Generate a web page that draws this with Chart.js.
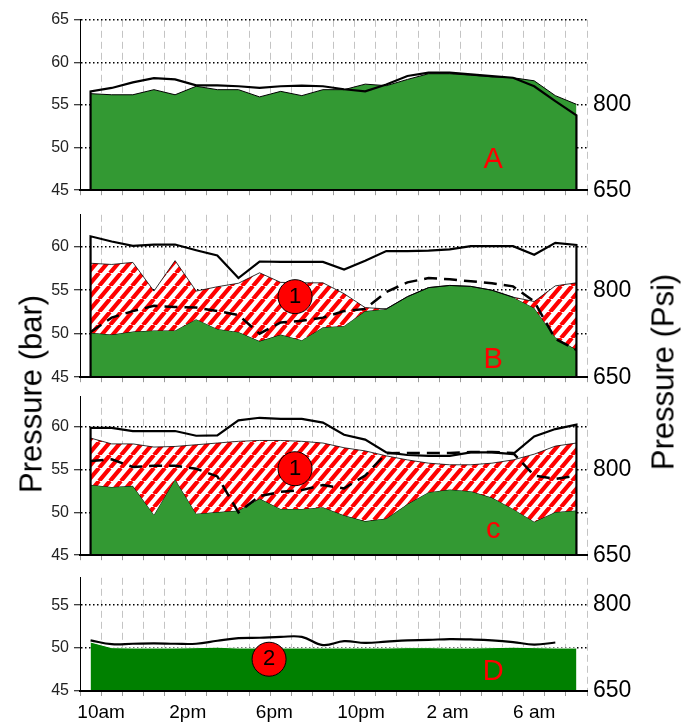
<!DOCTYPE html>
<html>
<head>
<meta charset="utf-8">
<script src="https://cdn.jsdelivr.net/npm/chart.js@4.4.1/dist/chart.umd.min.js"></script>
<style>
  html, body { margin: 0; padding: 0; background: #fff; }
  #wrap { position: relative; width: 689px; height: 723px; overflow: hidden; font-family: "Liberation Sans", Arial, sans-serif; }
  #wrap canvas { position: absolute; left: 0; }
  .ytitle { position: absolute; font-size: 31px; color: #000; white-space: nowrap; line-height: 1; }
</style>
</head>
<body>
<div id="wrap">
  <canvas id="panelA" width="689" height="210" style="top:0px"></canvas>
  <canvas id="panelB" width="689" height="202" style="top:195px"></canvas>
  <canvas id="panelC" width="689" height="198" style="top:377px"></canvas>
  <canvas id="panelD" width="689" height="165" style="top:558px"></canvas>
  <div class="ytitle" style="left:31px; top:394px; transform:translate(-50%,-50%) rotate(-90deg)">Pressure (bar)</div>
  <div class="ytitle" style="left:663px; top:372px; transform:translate(-50%,-50%) rotate(-90deg)">Pressure (Psi)</div>
</div>
<script>
// sample times, in hours after 10am
const sampleHours = [-0.5, 0.5, 1.5, 2.5, 3.5, 4.5, 5.5, 6.5, 7.5, 8.5, 9.5, 10.5,
  11.5, 12.5, 13.5, 14.5, 15.5, 16.5, 17.5, 18.5, 19.5, 20.5, 21.5, 22.5];
const gridHours = [-1, 0, 1, 2, 3, 4, 5, 6, 7, 8, 9, 10, 11, 12, 13, 14, 15, 16, 17, 18, 19, 20, 21, 22, 23];
const tickHours = [0, 4.1, 8.2, 12.3, 16.4, 20.5];
const tickLabels = ['10am', '2pm', '6pm', '10pm', '2 am', '6 am'];
const psiTicks = [650, 800];

// panel A
const aGreen = [56.33, 56.2, 56.2, 56.8, 56.2, 57.2, 56.8, 56.8, 55.95, 56.6, 56.1, 56.8,
  56.8, 57.45, 57.27, 58.0, 58.67, 58.67, 58.5, 58.3, 58.2, 57.84, 56.1, 55.08];
const aTop = [56.6, 57.0, 57.65, 58.15, 58.0, 57.3, 57.3, 57.2, 57.0, 57.2, 57.27, 57.2,
  56.85, 56.6, 57.4, 58.4, 58.8, 58.8, 58.6, 58.4, 58.2, 57.2, 55.45, 53.8];

// panel B
const bGreen = [50.1, 49.9, 50.25, 50.37, 50.37, 51.67, 50.55, 50.2, 49.15, 49.9, 49.26, 50.74,
  50.9, 52.6, 52.85, 54.26, 55.3, 55.55, 55.44, 55.0, 54.2, 52.96, 49.6, 48.15];
const bHatch = [58.1, 57.96, 58.2, 54.9, 58.4, 54.9, 55.4, 55.8, 57.0, 55.9, 55.85, 55.85,
  54.6, 53.0, 52.85, 54.26, 55.3, 55.55, 55.44, 55.0, 54.2, 53.7, 55.5, 55.85];
const bTop = [61.2, 60.6, 60.1, 60.25, 60.25, 59.6, 59.0, 56.4, 58.3, 58.25, 58.25, 58.25,
  57.37, 58.4, 59.5, 59.5, 59.55, 59.7, 60.07, 60.07, 60.07, 59.07, 60.44, 60.2];
const bDashed = [50.2, 51.85, 52.6, 53.2, 53.07, 53.0, 52.6, 52.15, 50.0, 51.3, 51.48, 51.85,
  52.6, 52.85, 54.8, 55.9, 56.4, 56.25, 56.03, 55.8, 55.44, 53.7, 49.4, 48.15];

// panel C
const cGreen = [53.23, 52.97, 53.1, 49.73, 53.87, 49.85, 50.04, 50.22, 51.61, 50.41, 50.41, 50.6,
  49.66, 48.98, 49.28, 50.97, 52.36, 52.67, 52.47, 51.73, 50.41, 48.91, 50.04, 50.22];
const cHatch = [58.68, 58.0, 58.0, 57.63, 57.7, 57.9, 58.1, 58.3, 58.4, 58.4, 58.3, 58.1,
  57.55, 57.18, 56.6, 56.13, 55.75, 55.56, 55.56, 55.75, 56.13, 56.8, 57.74, 58.1];
const cTop = [59.88, 59.88, 59.5, 59.5, 59.5, 58.95, 59.0, 60.75, 61.05, 60.93, 60.93, 60.48,
  59.06, 58.5, 57.0, 56.7, 56.6, 56.6, 57.0, 57.0, 56.8, 58.87, 59.73, 60.25];
const cDashed = [56.0, 56.2, 55.3, 55.45, 55.45, 55.1, 54.2, 50.0, 51.9, 52.4, 52.6, 53.2,
  52.8, 54.3, 56.9, 56.95, 56.95, 56.95, 57.05, 57.05, 56.95, 54.3, 53.9, 54.3];

// panel D
const dGreen = [50.7, 50.05, 50.0, 50.0, 50.0, 50.05, 50.1, 50.0, 50.0, 50.0, 50.0, 50.0,
  50.0, 50.0, 50.0, 50.05, 50.05, 50.0, 50.0, 50.05, 50.1, 50.05, 50.0, 50.0];
const dTop = [50.9, 50.45, 50.5, 50.55, 50.5, 50.5, 50.85, 51.15, 51.2, 51.3, 51.3, 50.35,
  50.8, 50.6, 50.75, 50.9, 50.95, 51.05, 51.0, 50.9, 50.7, 50.4, 50.65];

const baseBar = 45;
const psiPerBar = 15;
const fontFamily = '"Liberation Sans", Arial, sans-serif';

function pts(values) {
  return values.map((v, i) => ({ x: sampleHours[i], y: v }));
}
function withBase(values) {
  const p = pts(values);
  return [{ x: p[0].x, y: baseBar }, ...p, { x: p[p.length - 1].x, y: baseBar }];
}

function stripePattern() {
  const c = document.createElement('canvas');
  const w = 11, h = 13;
  c.width = w; c.height = h;
  const g = c.getContext('2d');
  g.fillStyle = '#fff';
  g.fillRect(0, 0, w, h);
  g.strokeStyle = '#ff0000';
  g.lineWidth = 4.2;
  g.beginPath();
  g.moveTo(0, h); g.lineTo(w, 0);
  g.moveTo(-w, h); g.lineTo(0, 0);
  g.moveTo(w, h); g.lineTo(2 * w, 0);
  g.stroke();
  return g.createPattern(c, 'repeat');
}
const hatch = stripePattern();

const panelLabels = {
  id: 'panelLabels',
  afterDatasetsDraw(chart, args, opts) {
    const { ctx, scales: { x, y } } = chart;
    (opts.items || []).forEach(it => {
      ctx.save();
      ctx.font = it.font;
      ctx.fillStyle = it.color;
      ctx.textAlign = 'center';
      ctx.textBaseline = 'middle';
      ctx.fillText(it.text, x.getPixelForValue(it.x), y.getPixelForValue(it.y));
      ctx.restore();
    });
  }
};

function makePanel(id, o) {
  const datasets = [];
  const items = [{ text: o.letter, x: 18.56, y: o.letterY, font: '29px ' + fontFamily, color: '#ff0000' }];
  if (o.badge) {
    datasets.push({
      data: [{ x: o.badge.x, y: o.badge.y }],
      showLine: false, pointRadius: 17, pointHoverRadius: 17,
      pointBackgroundColor: '#ff0000', pointBorderColor: '#000', pointBorderWidth: 1
    });
    items.push({ text: o.badge.text, x: o.badge.x, y: o.badge.y, font: '22px ' + fontFamily, color: '#000' });
  }
  datasets.push({
    data: o.top, borderColor: '#000', borderWidth: 2.2, pointRadius: 0, fill: false,
    tension: o.smooth ? 0.4 : 0
  });
  if (o.dashed) {
    datasets.push({
      data: pts(o.dashed), borderColor: '#000', borderWidth: 2.5, borderDash: [13, 7],
      pointRadius: 0, fill: false
    });
  }
  if (o.hatch) {
    datasets.push({
      data: pts(o.hatch), borderColor: '#000', borderWidth: 0.8, pointRadius: 0,
      fill: '+1', backgroundColor: hatch
    });
  }
  datasets.push({
    data: pts(o.green), borderColor: o.greenBorder, borderWidth: 1, pointRadius: 0,
    fill: 'start', backgroundColor: o.greenColor
  });

  const scales = {
    x: {
      type: 'linear', position: 'bottom', min: -1, max: 23,
      afterBuildTicks: s => { s.ticks = gridHours.map(v => ({ value: v })); },
      afterFit: s => { s.height = 6; },
      ticks: { display: false },
      grid: { color: '#c4c4c4', lineWidth: 1, borderDash: [7, 4], tickLength: 5,
        tickColor: '#9a9a9a', tickBorderDash: [], tickWidth: 1 },
      border: { display: true, color: '#000', width: 2, dash: [7, 4], z: 1 }
    },
    y: {
      type: 'linear', position: 'left', min: baseBar, max: o.yMax,
      afterBuildTicks: s => { s.ticks = o.yTicks.map(v => ({ value: v })); },
      afterFit: s => { s.width = 80; },
      ticks: { color: '#222', font: { family: fontFamily, size: 16 }, padding: 5 },
      grid: { color: '#000', lineWidth: 1.5, borderDash: [1.5, 2.5], tickLength: 6,
        tickColor: '#000', tickBorderDash: [], tickWidth: 1 },
      border: { color: '#000', width: 1, dash: [1.5, 2.5], z: 1 }
    },
    y2: {
      type: 'linear', position: 'right', min: 650, max: 650 + (o.yMax - baseBar) * psiPerBar,
      afterBuildTicks: s => { s.ticks = psiTicks.map(v => ({ value: v })); },
      afterFit: s => { s.width = 102; },
      grid: { display: false, drawTicks: false },
      border: { display: false },
      ticks: { color: '#000', font: { family: fontFamily, size: 23 }, padding: 6 }
    }
  };
  if (o.showHours) {
    scales.x2 = {
      type: 'linear', position: 'bottom', min: -1, max: 23, weight: 1,
      afterBuildTicks: s => { s.ticks = tickHours.map(v => ({ value: v })); },
      afterFit: s => { s.height = 26; },
      grid: { display: false, drawTicks: false },
      border: { display: false },
      ticks: { autoSkip: false, maxRotation: 0, color: '#000', padding: 4,
        font: { family: fontFamily, size: 19 },
        callback: (v, i) => tickLabels[i] }
    };
  }

  new Chart(document.getElementById(id), {
    type: 'line',
    data: { datasets },
    options: {
      responsive: false,
      animation: false,
      layout: { padding: { top: 17, bottom: o.padBottom, left: 0, right: 0 } },
      plugins: { legend: { display: false }, tooltip: { enabled: false }, panelLabels: { items } },
      scales
    },
    plugins: [panelLabels]
  });
}

makePanel('panelA', {
  yMax: 65, yTicks: [45, 50, 55, 60, 65], padBottom: 11,
  top: withBase(aTop), green: aGreen, greenColor: '#339933', greenBorder: '#000',
  letter: 'A', letterY: 48.5
});
makePanel('panelB', {
  yMax: 63.67, yTicks: [45, 50, 55, 60], padBottom: 11,
  top: withBase(bTop), dashed: bDashed, hatch: bHatch, green: bGreen,
  greenColor: '#339933', greenBorder: '#000',
  letter: 'B', letterY: 47.03, badge: { x: 9.18, y: 54.26, text: '1' }
});
makePanel('panelC', {
  yMax: 63.5, yTicks: [45, 50, 55, 60], padBottom: 11,
  top: withBase(cTop), dashed: cDashed, hatch: cHatch, green: cGreen,
  greenColor: '#339933', greenBorder: '#000',
  letter: 'c', letterY: 47.93, badge: { x: 9.18, y: 55.1, text: '1' }
});
makePanel('panelD', {
  yMax: 58.18, yTicks: [45, 50, 55], padBottom: 0, showHours: true,
  top: pts(dTop), smooth: true, green: dGreen, greenColor: '#008000', greenBorder: '#ffffff',
  letter: 'D', letterY: 47.27, badge: { x: 7.95, y: 48.7, text: '2' }
});
</script>
</body>
</html>
